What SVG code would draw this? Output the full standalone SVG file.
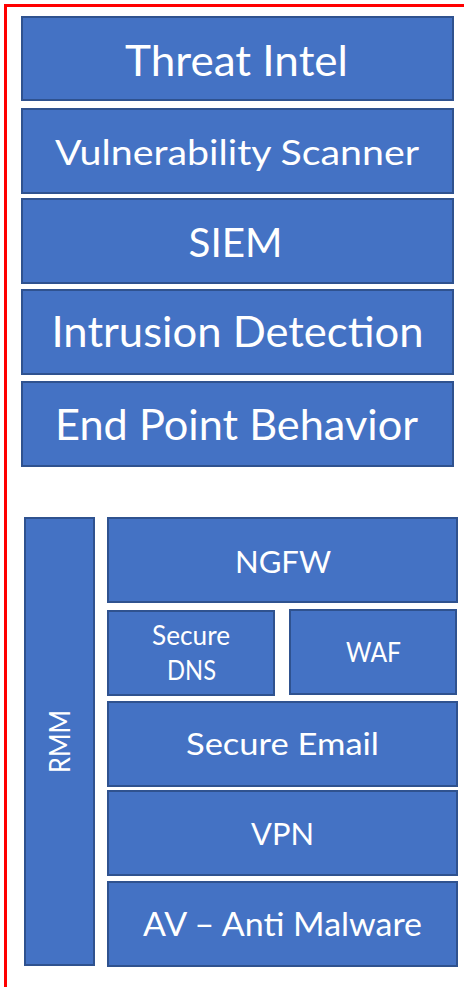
<svg xmlns="http://www.w3.org/2000/svg" width="464" height="987" viewBox="0 0 464 987">
<style>
.box{fill:#4472C4;stroke:#2F528F;stroke-width:2}
.t{fill:#FFFFFF;font-family:Lato,"Open Sans","Liberation Sans",sans-serif;text-anchor:middle;lengthAdjust:spacingAndGlyphs}
</style>
<rect x="0" y="0" width="464" height="987" fill="#FFFFFF"/>
<rect x="5.5" y="5.5" width="480" height="1000" fill="none" stroke="#FF0000" stroke-width="3"/>
<g id="threat-intel"><rect class="box" x="22" y="17" width="431" height="83"/><text class="t" x="236.5" y="76" font-size="43" textLength="223" lengthAdjust="spacingAndGlyphs">Threat Intel</text></g>
<g id="vulnerability-scanner"><rect class="box" x="22" y="109" width="431" height="84"/><text class="t" x="237" y="165" font-size="35" textLength="364" lengthAdjust="spacingAndGlyphs">Vulnerability Scanner</text></g>
<g id="siem"><rect class="box" x="22" y="199" width="431" height="84"/><text class="t" x="235.5" y="257" font-size="40" textLength="94" lengthAdjust="spacingAndGlyphs">SIEM</text></g>
<g id="intrusion-detection"><rect class="box" x="22" y="290" width="431" height="84"/><text class="t" x="237.5" y="347" font-size="42" textLength="372" lengthAdjust="spacingAndGlyphs">Intrusion Detection</text></g>
<g id="end-point-behavior"><rect class="box" x="22" y="382" width="431" height="84"/><text class="t" x="236.5" y="440" font-size="43" textLength="363" lengthAdjust="spacingAndGlyphs">End Point Behavior</text></g>
<g id="rmm"><rect class="box" x="25" y="518" width="69" height="447"/><text class="t" transform="translate(70 741.5) rotate(-90)" x="0" y="0" font-size="28" textLength="63" lengthAdjust="spacingAndGlyphs">RMM</text></g>
<g id="ngfw"><rect class="box" x="108" y="518" width="349" height="84"/><text class="t" x="283" y="573" font-size="31" textLength="96" lengthAdjust="spacingAndGlyphs">NGFW</text></g>
<g id="secure-dns"><rect class="box" x="108" y="611" width="166" height="84"/><text class="t" x="191" y="645" font-size="26" textLength="78" lengthAdjust="spacingAndGlyphs">Secure</text><text class="t" x="191.5" y="680" font-size="26" textLength="49" lengthAdjust="spacingAndGlyphs">DNS</text></g>
<g id="waf"><rect class="box" x="290" y="610" width="166" height="84"/><text class="t" x="373.5" y="662" font-size="26" textLength="55" lengthAdjust="spacingAndGlyphs">WAF</text></g>
<g id="secure-email"><rect class="box" x="108" y="702" width="349" height="84"/><text class="t" x="282.5" y="755" font-size="31" textLength="193" lengthAdjust="spacingAndGlyphs">Secure Email</text></g>
<g id="vpn"><rect class="box" x="108" y="791" width="349" height="84"/><text class="t" x="282.5" y="845" font-size="31" textLength="63" lengthAdjust="spacingAndGlyphs">VPN</text></g>
<g id="av-anti-malware"><rect class="box" x="108" y="882" width="349" height="84"/><text class="t" x="282.5" y="936" font-size="32" textLength="279" lengthAdjust="spacingAndGlyphs">AV – Anti Malware</text></g>
<g id="connectors"></g>
</svg>
